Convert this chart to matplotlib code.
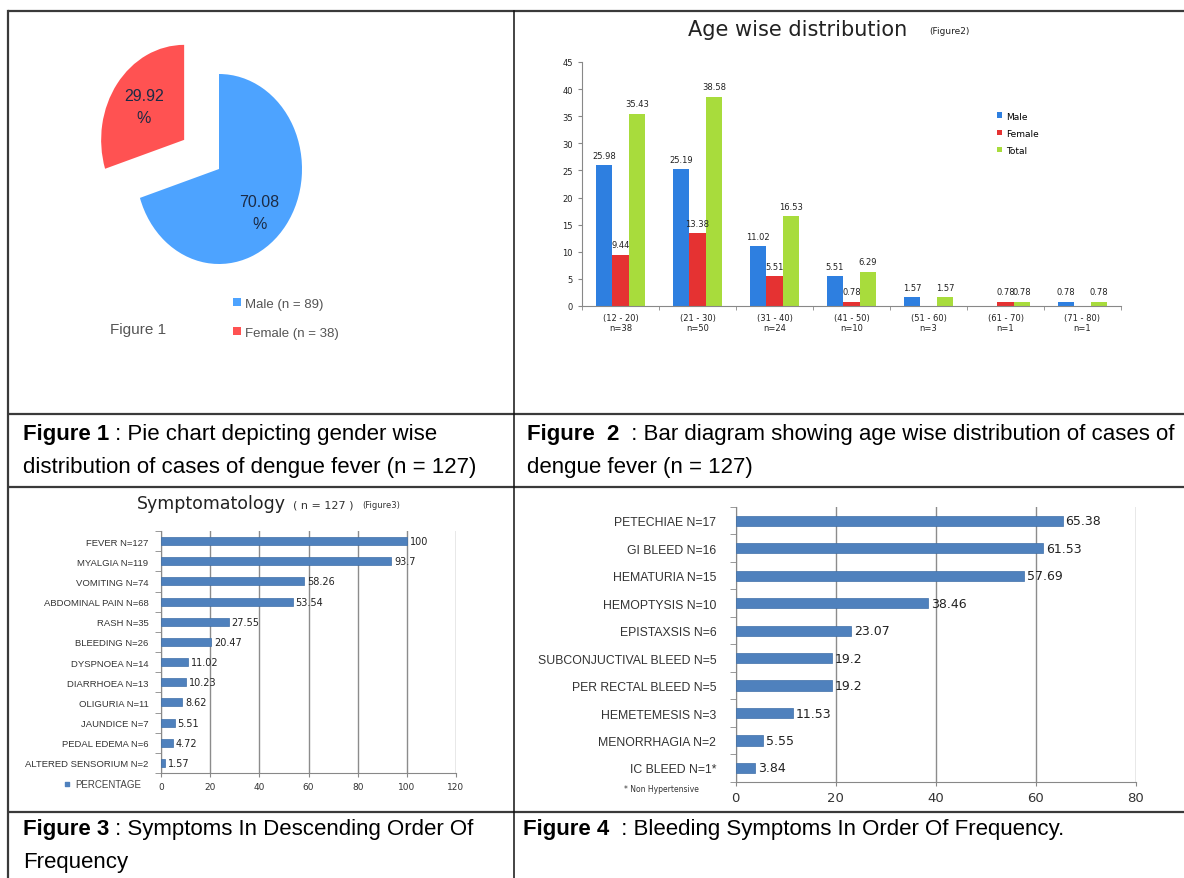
import numpy as np
import matplotlib
matplotlib.use('Agg')
import matplotlib.pyplot as plt
from matplotlib import font_manager as fm

# ---- data ----
gender = ['Male (n = 89)', 'Female (n = 38)']
gender_pct = [70.08, 29.92]

age_groups = ['(12 - 20)\nn=38', '(21 - 30)\nn=50', '(31 - 40)\nn=24', '(41 - 50)\nn=10',
              '(51 - 60)\nn=3', '(61 - 70)\nn=1', '(71 - 80)\nn=1']
age_male = [25.98, 25.19, 11.02, 5.51, 1.57, np.nan, 0.78]
age_female = [9.44, 13.38, 5.51, 0.78, np.nan, 0.78, np.nan]
age_total = [35.43, 38.58, 16.53, 6.29, 1.57, 0.78, 0.78]

symptoms = ['FEVER N=127', 'MYALGIA N=119', 'VOMITING N=74', 'ABDOMINAL PAIN N=68',
            'RASH N=35', 'BLEEDING N=26', 'DYSPNOEA N=14', 'DIARRHOEA N=13',
            'OLIGURIA N=11', 'JAUNDICE N=7', 'PEDAL EDEMA N=6', 'ALTERED SENSORIUM N=2']
symptom_pct = [100, 93.7, 58.26, 53.54, 27.55, 20.47, 11.02, 10.23, 8.62, 5.51, 4.72, 1.57]

bleeds = ['PETECHIAE N=17', 'GI BLEED N=16', 'HEMATURIA N=15', 'HEMOPTYSIS N=10',
          'EPISTAXSIS N=6', 'SUBCONJUCTIVAL BLEED N=5', 'PER RECTAL BLEED N=5',
          'HEMETEMESIS N=3', 'MENORRHAGIA N=2', 'IC BLEED N=1*']
bleed_pct = [65.38, 61.53, 57.69, 38.46, 23.07, 19.2, 19.2, 11.53, 5.55, 3.84]

names = {f.name for f in fm.fontManager.ttflist}
NARROW = 'Liberation Sans Narrow' if 'Liberation Sans Narrow' in names else 'Liberation Sans'

W, H = 1184, 879
fig = plt.figure(figsize=(W / 100, H / 100), dpi=100)


def px_axes(l, t, r, b):
    return fig.add_axes([l / W, 1 - b / H, (r - l) / W, (b - t) / H])


# overlay in pixel coords for table lines / captions
ov = fig.add_axes([0, 0, 1, 1])
ov.set_xlim(0, W)
ov.set_ylim(H, 0)
ov.axis('off')

for y in [12, 415, 488, 813]:
    ov.plot([8, W], [y, y], color='#3a3a3a', lw=1.6, solid_capstyle='butt')
ov.plot([8, 8], [12, H], color='#3a3a3a', lw=1.6)
ov.plot([514, 514], [12, H], color='#111111', lw=1.1)

CAP = 16


def caption(x, y, bold, rest):
    t = ov.text(x, y, bold, fontsize=CAP, fontweight='bold', family=NARROW, va='center')
    ov.annotate(rest, xy=(1, 0.5), xycoords=t, va='center', fontsize=CAP, family=NARROW)


caption(23, 435, 'Figure 1', ' : Pie chart depicting gender wise')
ov.text(23, 468, 'distribution of cases of dengue fever (n = 127)', fontsize=CAP, family=NARROW, va='center')
caption(527, 435, 'Figure  2', '  : Bar diagram showing age wise distribution of cases of')
ov.text(527, 468, 'dengue fever (n = 127)', fontsize=CAP, family=NARROW, va='center')
caption(23, 830, 'Figure 3', ' : Symptoms In Descending Order Of')
ov.text(23, 863, 'Frequency', fontsize=CAP, family=NARROW, va='center')
caption(523, 830, 'Figure 4', '  : Bleeding Symptoms In Order Of Frequency.')

# ---- Figure 1: pie ----
ax1 = px_axes(86.2, 27.5, 351.8, 312.5)
wedges, _, autotexts = ax1.pie(gender_pct, colors=['#4DA3FF', '#FF5252'], startangle=90,
                               counterclock=False, explode=[0, 0.52], pctdistance=0.6,
                               autopct=lambda p: f'{p:.2f}\n%',
                               textprops=dict(color='#1c2b45', fontsize=11.5, family=NARROW))
for t in autotexts:
    t.set_linespacing(1.6)
mx, my = autotexts[0].get_position()
autotexts[0].set_position((mx, my - 0.1))
ax1.set_aspect('auto')
ax1.set_xlim(-1.6, 1.6)
ax1.set_ylim(-1.5, 1.5)
ov.legend(wedges, gender, loc='upper left', bbox_to_anchor=(226, 292), bbox_transform=ov.transData,
          frameon=False, handlelength=0.6, handleheight=0.6, handletextpad=0.35, borderpad=0,
          labelspacing=1.3, prop=dict(family=NARROW, size=9.5), labelcolor='#555555')
ov.text(110, 330, 'Figure 1', fontsize=11, family=NARROW, color='#555555', va='center')

# ---- Figure 2: age-wise bars ----
ax2 = px_axes(582, 63, 1121, 307)
x = np.arange(len(age_groups))
bw = 0.215
for off, vals, col in [(-bw, age_male, '#2E7FE0'), (0, age_female, '#E53232'), (bw, age_total, '#A8DC3C')]:
    ax2.bar(x + off, vals, bw, color=col)
    for xi, v in zip(x, vals):
        if not np.isnan(v):
            ax2.text(xi + off, v + 1.0, f'{v:g}', ha='center', va='bottom', fontsize=6, color='#222222')
ax2.set_ylim(0, 45)
ax2.set_xlim(-0.5, len(age_groups) - 0.5)
ax2.set_yticks(np.arange(0, 46, 5))
ax2.set_xticks(x)
ax2.set_xticklabels(age_groups)
ax2.set_xticks(np.arange(-0.5, len(age_groups), 1), minor=True)
ax2.tick_params(axis='x', which='major', length=0, labelsize=6, pad=5, labelcolor='#222222')
ax2.tick_params(axis='x', which='minor', length=3, color='#888888')
ax2.tick_params(axis='y', length=3, color='#888888', labelsize=6, labelcolor='#222222')
for s in ['top', 'right']:
    ax2.spines[s].set_visible(False)
for s in ['left', 'bottom']:
    ax2.spines[s].set_color('#888888')
ax2.legend(['Male', 'Female', 'Total'], loc='upper left', bbox_to_anchor=(992, 108),
           bbox_transform=ov.transData, frameon=False, handlelength=0.6, handleheight=0.6,
           handletextpad=0.5, borderpad=0, labelspacing=0.9, fontsize=6.5)
ov.text(798, 30, 'Age wise distribution', fontsize=15, ha='center', va='center', color='#222222')
ov.text(929, 32, '(Figure2)', fontsize=6.5, va='center', color='#222222')


# ---- Figure 3 / 4: horizontal bars ----
def hbar(ax, labels, vals, xmax, step, hgt, lab_fs, val_fs, tick_fs, pad):
    y = np.arange(len(labels))
    bars = ax.barh(y, vals, height=hgt, color='#4F81BD', edgecolor='#3F6FA8', lw=0.5, zorder=3)
    ax.bar_label(bars, labels=[f'{v:g}' for v in vals], padding=2, fontsize=val_fs, color='#222222')
    ax.set_xlim(0, xmax)
    ax.set_ylim(len(labels) - 0.5, -0.5)
    ax.set_xticks(np.arange(0, xmax + 1, step))
    ax.set_yticks(y)
    ax.set_yticklabels(labels, family=NARROW, fontsize=lab_fs, color='#333333')
    ax.set_yticks(np.arange(-0.5, len(labels), 1), minor=True)
    ax.tick_params(axis='y', which='major', length=0, pad=pad)
    ax.tick_params(axis='y', which='minor', length=4, color='#888888')
    ax.tick_params(axis='x', length=3, color='#888888', labelsize=tick_fs, labelcolor='#333333')
    ax.xaxis.grid(True, color='#8c8c8c', lw=1)
    ax.set_axisbelow(True)
    for s in ['top', 'right']:
        ax.spines[s].set_visible(False)
    for s in ['left', 'bottom']:
        ax.spines[s].set_color('#888888')


ax3 = px_axes(161, 532, 456, 774)
hbar(ax3, symptoms, symptom_pct, 120, 20, 0.4, 6.8, 7, 6.5, 9)
ov.text(137, 504, 'Symptomatology', fontsize=12.5, va='center', color='#222222')
ov.text(293, 506, '( n = 127 )', fontsize=8, va='center', color='#333333')
ov.text(362, 506, '(Figure3)', fontsize=6, va='center', color='#333333')
ov.scatter([67], [785], marker='s', s=10, color='#4F81BD')
ov.text(75, 785, 'PERCENTAGE', fontsize=7, family=NARROW, va='center', color='#444444')

ax4 = px_axes(735.6, 508, 1135.7, 782.7)
hbar(ax4, bleeds, bleed_pct, 80, 20, 0.37, 8.8, 9, 9.5, 14)
ov.scatter([1046], [738], marker='s', s=12, color='#4F81BD')
ov.text(1055, 738, 'PERCENTAGE', fontsize=7.5, family=NARROW, va='center', color='#444444')
ov.text(624, 790, '* Non Hypertensive', fontsize=5.5, va='center', color='#333333')

fig.savefig('out.png', dpi=100)
